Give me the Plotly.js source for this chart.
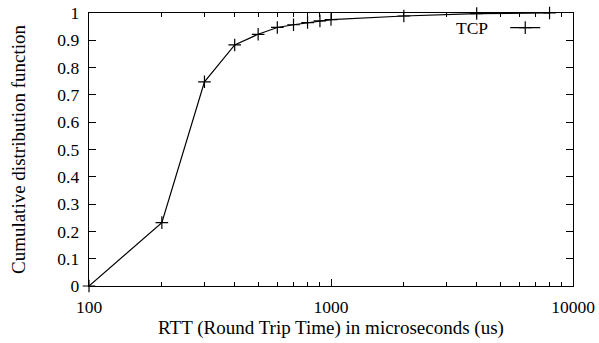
<!DOCTYPE html>
<html>
<head>
<meta charset="utf-8">
<script src="https://cdn.plot.ly/plotly-3.0.1.min.js"></script>
<style>html,body{margin:0;padding:0;background:#fff;}#chart{width:599px;height:343px;}</style>
</head>
<body>
<div id="chart"></div>
<script>
const seriesName = "TCP";
const rttValues = [100, 200, 300, 400, 500, 600, 700, 800, 900, 1000, 2000, 4000, 8000];
const cdfValues = [0, 0.232, 0.748, 0.883, 0.922, 0.947, 0.957, 0.965, 0.971, 0.976, 0.989, 0.998, 1.0];
const xTickVals = [100, 1000, 10000];
const xTickText = ["100", "1000", "10000"];
const yTickVals = [0, 0.1, 0.2, 0.3, 0.4, 0.5, 0.6, 0.7, 0.8, 0.9, 1];
const yTickText = ["0", "0.1", "0.2", "0.3", "0.4", "0.5", "0.6", "0.7", "0.8", "0.9", "1"];

const serif = "Liberation Serif, Times New Roman, serif";

const trace = {
  x: rttValues, y: cdfValues, type: "scatter", mode: "lines+markers",
  name: "", showlegend: true,
  line: {color: "#000", width: 1.2},
  marker: {symbol: "cross-thin", size: 9, line: {color: "#000", width: 1.2}},
  cliponaxis: false
};

const layout = {
  width: 599, height: 343,
  margin: {l: 89, r: 26, t: 10, b: 57},
  paper_bgcolor: "#fff", plot_bgcolor: "#fff",
  font: {family: serif, size: 17.5, color: "#000"},
  showlegend: true,
  legend: {x: 0.86, y: 0.946, xanchor: "left", yanchor: "middle", bgcolor: "rgba(0,0,0,0)",
    font: {family: serif, size: 17.5}, itemwidth: 30, tracegroupgap: 0},
  annotations: [{text: seriesName, xref: "paper", yref: "paper", x: 0.829, y: 0.946,
    xanchor: "right", yanchor: "middle", showarrow: false, font: {family: serif, size: 17.5, color: "#000"}}],
  xaxis: {
    type: "log", range: [2, 4], tickvals: xTickVals, ticktext: xTickText,
    ticks: "inside", ticklen: 7, tickwidth: 1, tickcolor: "#000",
    showline: true, linecolor: "#000", linewidth: 1.3, mirror: "allticks",
    showgrid: false, zeroline: false, ticklabelstandoff: 5,
    minor: {ticks: "inside", ticklen: 4, tickcolor: "#000", dtick: "D1", showgrid: false},
    tickfont: {family: serif, size: 17.5},
    title: {text: "RTT (Round Trip Time) in microseconds (us)", font: {family: serif, size: 19}, standoff: 2}
  },
  yaxis: {
    range: [0, 1], tickvals: yTickVals, ticktext: yTickText,
    ticks: "inside", ticklen: 7, tickwidth: 1, tickcolor: "#000",
    showline: true, linecolor: "#000", linewidth: 1.3, mirror: "allticks",
    showgrid: false, zeroline: false, ticklabelstandoff: 5,
    tickfont: {family: serif, size: 17.5},
    title: {text: "Cumulative distribution function", font: {family: serif, size: 19}, standoff: 26}
  }
};

Plotly.newPlot("chart", [trace], layout, {staticPlot: true, displayModeBar: false});
</script>
</body>
</html>
